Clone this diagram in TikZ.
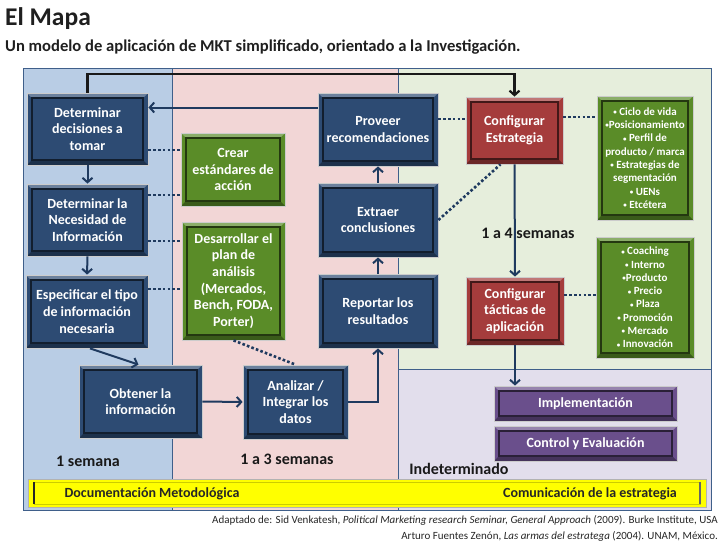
\documentclass[tikz,border=0pt]{standalone}
\usepackage{fontspec}
\setmainfont{Carlito}
\usetikzlibrary{arrows.meta,calc}
\definecolor{regblue}{HTML}{B9CDE5}
\definecolor{regpink}{HTML}{F2D6D6}
\definecolor{reggreen}{HTML}{E6EEDC}
\definecolor{reglav}{HTML}{E2DEEC}
\definecolor{regline}{HTML}{3F5F8A}
\definecolor{boxblue}{HTML}{2D4B73}
\definecolor{boxgreen}{HTML}{5A8C28}
\definecolor{boxred}{HTML}{A53C3C}
\definecolor{boxpurple}{HTML}{6A4F8C}
\definecolor{conn}{HTML}{1F3A5F}
\definecolor{ybar}{HTML}{FFFF00}
\newcommand{\bu}{{\fontsize{7}{7}\selectfont\raisebox{0.6pt}{•}}}
\tikzset{
  region/.style={fill=#1, draw=regline, line width=0.9pt},
  bx/.style={fill=#1, draw=black!20, line width=0.8pt, text=white, align=center,
    inner sep=0pt, font=\fontsize{14}{16.7}\selectfont\bfseries,
    path picture={
      \fill[#1!70!white] (path picture bounding box.north west) -- (path picture bounding box.north east)
        -- ([shift={(-5pt,-5pt)}]path picture bounding box.north east) -- ([shift={(5pt,-5pt)}]path picture bounding box.north west) -- cycle;
      \fill[#1!65!black] (path picture bounding box.south west) -- (path picture bounding box.south east)
        -- ([shift={(-5pt,5pt)}]path picture bounding box.south east) -- ([shift={(5pt,5pt)}]path picture bounding box.south west) -- cycle;
      \draw[#1!40!black, line width=1.3pt] ([shift={(5pt,-5pt)}]path picture bounding box.north west) rectangle ([shift={(-5pt,5pt)}]path picture bounding box.south east);
    }},
  listbx/.style={bx=boxgreen, font=\fontsize{11}{13.3}\selectfont\bfseries},
  arr/.style={draw=conn, line width=2pt, -{Straight Barb[length=4.5pt,width=10pt]}},
  arrk/.style={draw=black!90, line width=2.2pt, -{Straight Barb[length=4.5pt,width=10pt]}},
  dotc/.style={draw=conn, line width=2.6pt, dash pattern=on 2.6pt off 2.2pt},
  lbl/.style={font=\fontsize{16}{18}\selectfont\bfseries, text=black!90, inner sep=0pt},
}
\begin{document}
\begin{tikzpicture}[x=1pt,y=-1pt]
\useasboundingbox (0,0) rectangle (728,546);
% title
\node[anchor=west, inner sep=0pt, font=\fontsize{25.5}{28}\selectfont\bfseries, text=black!88] (title) at (5,19) {El Mapa};
\node[anchor=west, inner sep=0pt, font=\fontsize{16.6}{19}\selectfont\bfseries, text=black!88] (subtitle) at (5,47) {Un modelo de aplicación de MKT simplificado, orientado a la Investigación.};
% regions
\path[region=regblue] (23,68) rectangle (172,510);
\path[region=regpink] (172,68) rectangle (398,510);
\path[region=reggreen] (398,68) rectangle (711,369);
\path[region=reglav] (398,369) rectangle (711,510);
% yellow bar
\node[fill=ybar, draw=black!30, line width=0.6pt, minimum width=678pt, minimum height=28pt, inner sep=0pt,
  path picture={
    \draw[ybar!80!black, line width=0.8pt] ([shift={(6pt,-3pt)}]path picture bounding box.north west) rectangle ([shift={(-6pt,3pt)}]path picture bounding box.south east);
    \draw[black!85, line width=1.6pt] ([shift={(6pt,-3pt)}]path picture bounding box.north west) -- ([shift={(6pt,3pt)}]path picture bounding box.south west);
    \draw[black!60, line width=1.2pt] ([shift={(-6pt,-3pt)}]path picture bounding box.north east) -- ([shift={(-6pt,3pt)}]path picture bounding box.south east);
  }] (bar) at (367,493) {};
\node[font=\fontsize{14}{16}\selectfont\bfseries, text=black!85, inner sep=0pt] (doctxt) at (152,494) {Documentación Metodológica};
\node[font=\fontsize{14}{16}\selectfont\bfseries, text=black!85, inner sep=0pt] (comtxt) at (590,494) {Comunicación de la estrategia};
% boxes
\node[bx=boxblue, minimum width=121pt, minimum height=72pt] (dec) at (87.5,129) {Determinar\\decisiones a\\tomar};
\node[bx=boxblue, minimum width=121pt, minimum height=72pt] (nec) at (87.5,220) {Determinar la\\Necesidad de\\Información};
\node[bx=boxblue, minimum width=122pt, minimum height=73pt] (esp) at (87,311.5) {Especificar el tipo\\de información\\necesaria};
\node[bx=boxblue, minimum width=123pt, minimum height=73pt] (obt) at (140.5,401.5) {Obtener la\\información};
\node[bx=boxgreen, minimum width=104pt, minimum height=73pt] (cre) at (233,169.5) {Crear\\estándares de\\acción};
\node[bx=boxgreen, minimum width=103pt, minimum height=118pt] (des) at (233.5,281) {Desarrollar el\\plan de\\análisis\\(Mercados,\\Bench, FODA,\\Porter)};
\node[bx=boxblue, minimum width=120pt, minimum height=73pt] (pro) at (378,129.5) {Proveer\\recomendaciones};
\node[bx=boxblue, minimum width=120pt, minimum height=74pt] (ext) at (378,220) {Extraer\\conclusiones};
\node[bx=boxblue, minimum width=120pt, minimum height=74pt] (rep) at (378,311) {Reportar los\\resultados};
\node[bx=boxblue, minimum width=105pt, minimum height=74pt] (ana) at (295.5,402) {Analizar /\\Integrar los\\datos};
\node[bx=boxred, minimum width=97pt, minimum height=67pt] (cfe) at (514.5,130.5) {Configurar\\Estrategia};
\node[bx=boxred, minimum width=98pt, minimum height=68pt] (cft) at (515,311) {Configurar\\tácticas de\\aplicación};
\node[listbx, minimum width=96pt, minimum height=124pt] (gl1) at (645,158) {\bu\ Ciclo de vida\\\bu Posicionamiento\\\bu\ Perfil de\\producto / marca\\\bu\ Estrategias de\\segmentación\\\bu\ UENs\\\bu\ Etcétera};
\node[listbx, minimum width=98pt, minimum height=121pt] (gl2) at (645,297.5) {\bu\ Coaching\\\bu\ Interno\\\bu Producto\\\bu\ Precio\\\bu\ Plaza\\\bu\ Promoción\\\bu\ Mercado\\\bu\ Innovación};
\node[bx=boxpurple, minimum width=183pt, minimum height=35pt] (imp) at (585.5,403.5) {Implementación};
\node[bx=boxpurple, minimum width=183pt, minimum height=35pt] (ctl) at (585.5,443.5) {Control y Evaluación};
% labels
\node[lbl] (l1) at (88,461) {1 semana};
\node[lbl] (l2) at (287,459) {1 a 3 semanas};
\node[lbl] (l4) at (528,233) {1 a 4 semanas};
\node[lbl] (l5) at (459,469) {Indeterminado};
% solid connectors
\draw[arr] (dec.south) -- (nec.north);
\draw[arr] (nec.south) -- (esp.north);
\draw[arr] ($(esp.south)+(3,0)$) -- ($(obt.north)+(-2,0)$);
\draw[arr] (obt.east) -- (ana.west);
\draw[arr] (ana.east) -| (rep.south);
\draw[arr] (rep.north) -- (ext.south);
\draw[arr] (ext.north) -- (pro.south);
\draw[arr] ($(pro.west)+(0,-22)$) coordinate (pa) -- (pa -| dec.east);
\draw[arrk] (dec.north) -- ++(0,-19) -| (cfe.north);
\draw[arr] (cfe.south) -- (cft.north);
\draw[arr] (cft.south) -- (cft.south |- imp.north);
% dotted connectors
\draw[dotc] (dec.east |- 0,150) -- (cre.west |- 0,150);
\draw[dotc] (nec.east |- 0,195) -- (cre.west |- 0,195);
\draw[dotc] (nec.east |- 0,241) -- (des.west |- 0,241);
\draw[dotc] (esp.east |- 0,289) -- (des.west |- 0,289);
\draw[dotc] (des.south) -- (ana.north);
\draw[dotc] (pro.east |- 0,119) -- (cfe.west |- 0,119);
\draw[dotc] (ext.east) -- ($(cfe.south)+(-14,0)$);
\draw[dotc] (cfe.east |- 0,117) -- (gl1.west |- 0,117);
\draw[dotc] (cft.east |- 0,295) -- (gl2.west |- 0,295);
% footer
\node[anchor=north east, align=right, inner sep=0pt, font=\fontsize{11}{16}\selectfont, text=black!85] (foot) at (718,515)
 {Adaptado de: Sid Venkatesh, \textit{Political Marketing research Seminar, General Approach} (2009). Burke Institute, USA\\
  Arturo Fuentes Zenón, \textit{Las armas del estratega} (2004). UNAM, México.};
\end{tikzpicture}
\end{document}
